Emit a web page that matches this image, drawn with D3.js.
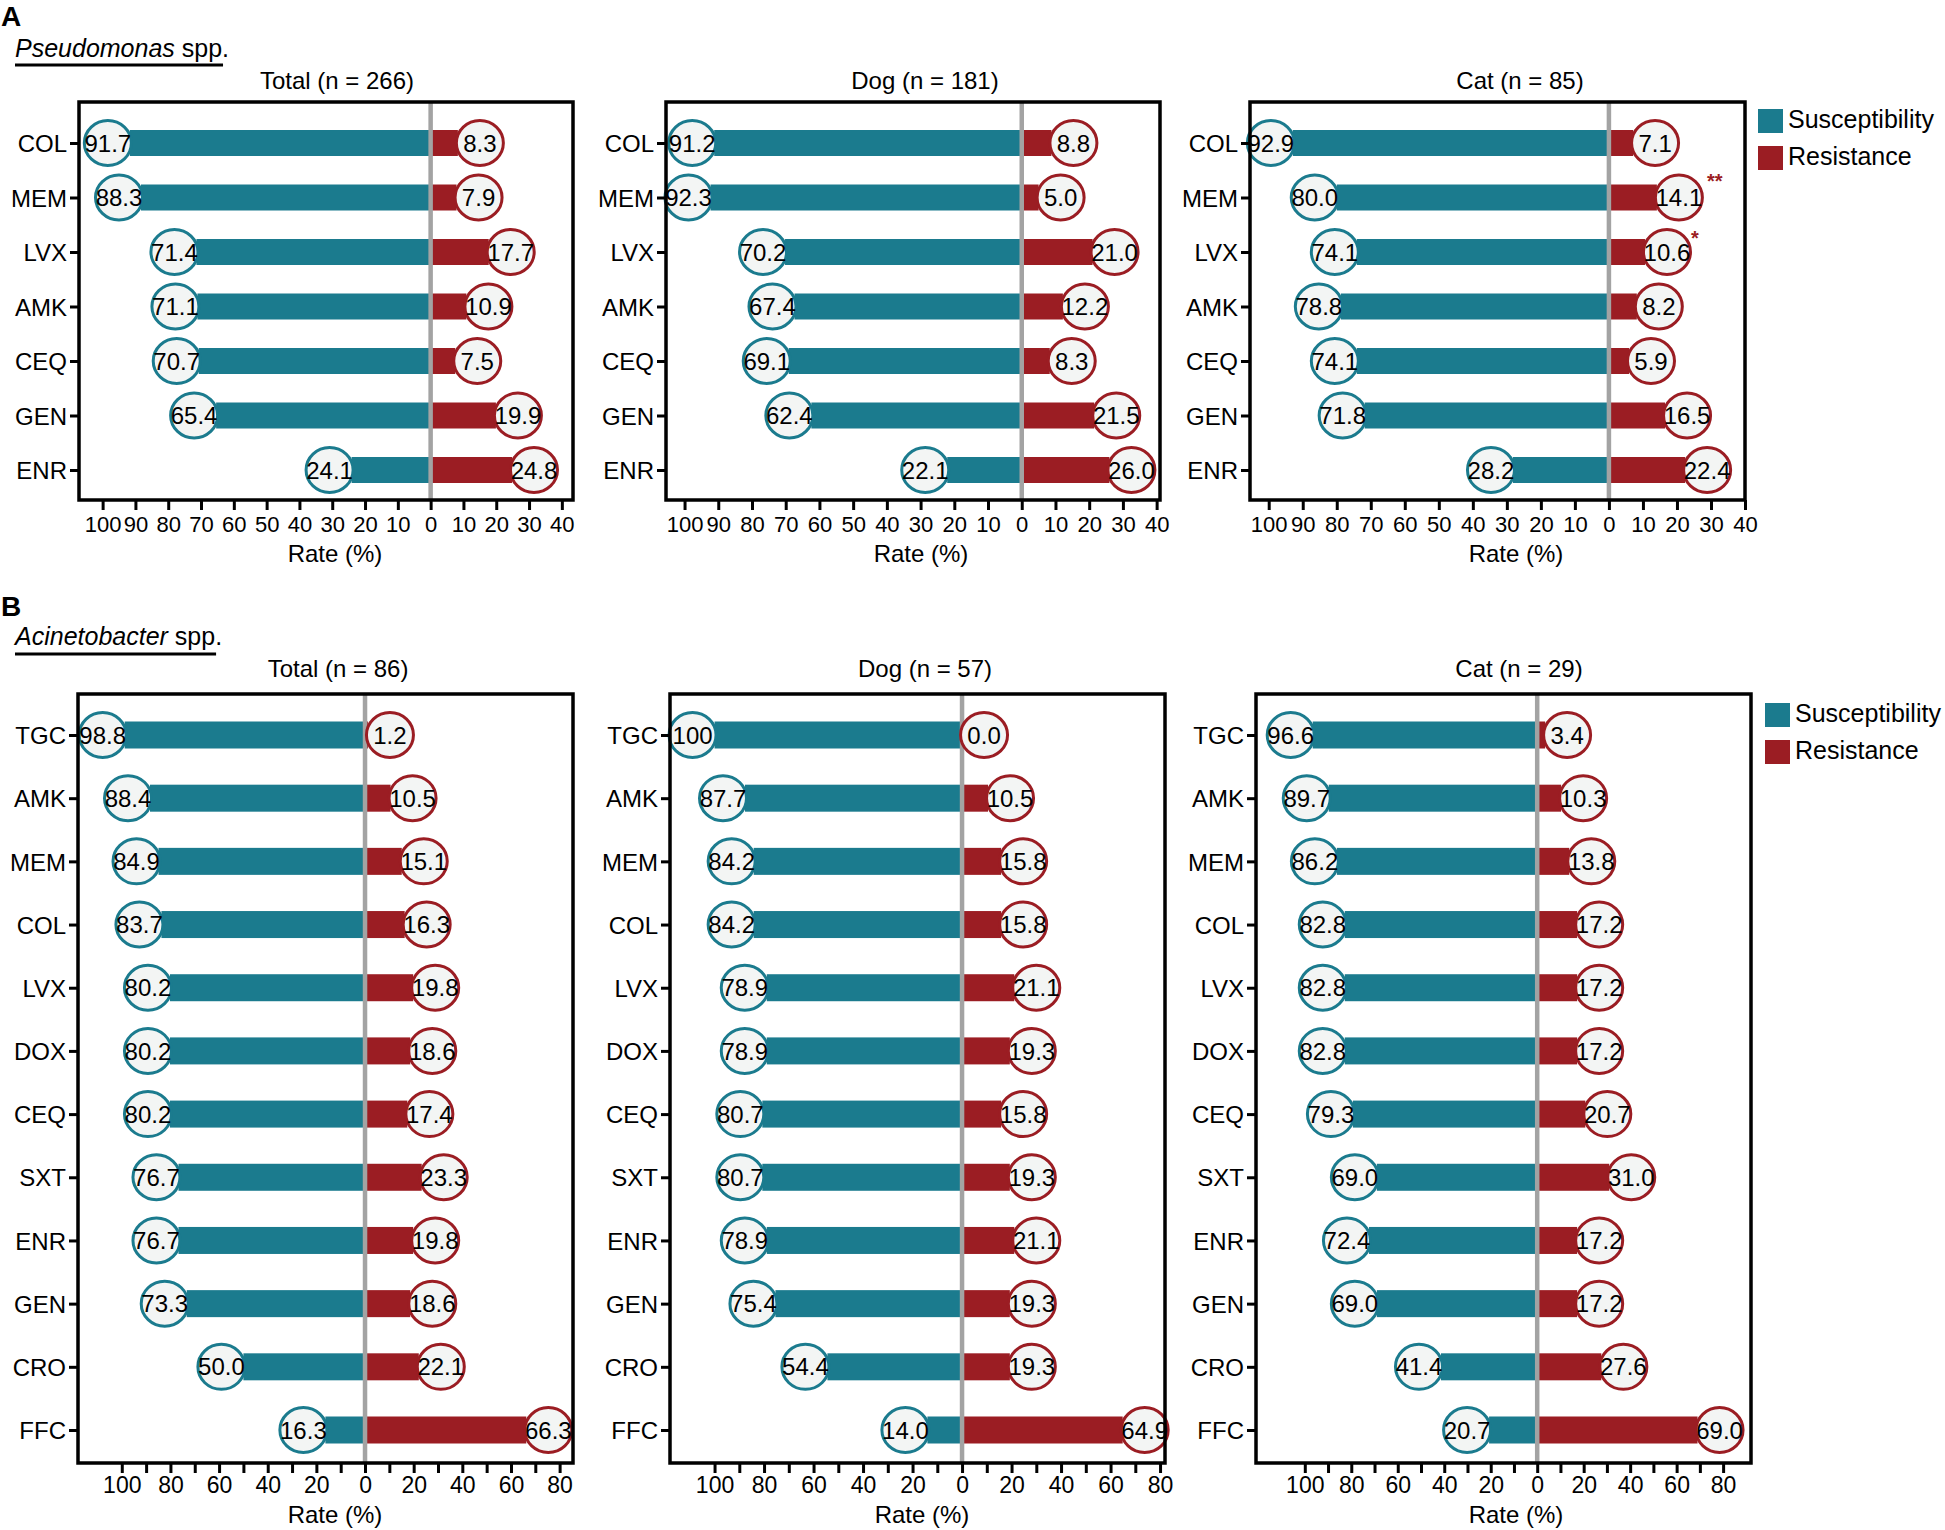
<!DOCTYPE html>
<html>
<head>
<meta charset="utf-8">
<script src="https://cdn.jsdelivr.net/npm/d3@7"></script>
<style>
  html, body { margin: 0; padding: 0; background: #ffffff; }
  svg { display: block; }
  text { font-family: "Liberation Sans", Arial, sans-serif; fill: #000; }
</style>
</head>
<body>
<svg id="chart" width="1945" height="1530"></svg>
<script>
// ---------------- DATA ----------------
// Panel A: Pseudomonas spp.
const drugsA = ["COL", "MEM", "LVX", "AMK", "CEQ", "GEN", "ENR"];
const totalA_S = [91.7, 88.3, 71.4, 71.1, 70.7, 65.4, 24.1];
const totalA_R = [8.3, 7.9, 17.7, 10.9, 7.5, 19.9, 24.8];
const dogA_S = [91.2, 92.3, 70.2, 67.4, 69.1, 62.4, 22.1];
const dogA_R = [8.8, 5.0, 21.0, 12.2, 8.3, 21.5, 26.0];
const catA_S = [92.9, 80.0, 74.1, 78.8, 74.1, 71.8, 28.2];
const catA_R = [7.1, 14.1, 10.6, 8.2, 5.9, 16.5, 22.4];
const catA_sig = ["", "**", "*", "", "", "", ""];
const titlesA = ["Total (n = 266)", "Dog (n = 181)", "Cat (n = 85)"];
const ticksA_left = [100, 90, 80, 70, 60, 50, 40, 30, 20, 10];
const ticksA_right = [0, 10, 20, 30, 40];

// Panel B: Acinetobacter spp.
const drugsB = ["TGC", "AMK", "MEM", "COL", "LVX", "DOX", "CEQ", "SXT", "ENR", "GEN", "CRO", "FFC"];
const totalB_S = [98.8, 88.4, 84.9, 83.7, 80.2, 80.2, 80.2, 76.7, 76.7, 73.3, 50.0, 16.3];
const totalB_R = [1.2, 10.5, 15.1, 16.3, 19.8, 18.6, 17.4, 23.3, 19.8, 18.6, 22.1, 66.3];
const dogB_S = [100, 87.7, 84.2, 84.2, 78.9, 78.9, 80.7, 80.7, 78.9, 75.4, 54.4, 14.0];
const dogB_R = [0.0, 10.5, 15.8, 15.8, 21.1, 19.3, 15.8, 19.3, 21.1, 19.3, 19.3, 64.9];
const catB_S = [96.6, 89.7, 86.2, 82.8, 82.8, 82.8, 79.3, 69.0, 72.4, 69.0, 41.4, 20.7];
const catB_R = [3.4, 10.3, 13.8, 17.2, 17.2, 17.2, 20.7, 31.0, 17.2, 17.2, 27.6, 69.0];
const titlesB = ["Total (n = 86)", "Dog (n = 57)", "Cat (n = 29)"];
const ticksB_left = [100, 90, 80, 70, 60, 50, 40, 30, 20, 10];
const ticksB_right = [0, 10, 20, 30, 40, 50, 60, 70, 80];
const ticksB_labelStep = 20;

const legendLabels = ["Susceptibility", "Resistance"];

// ---------------- STYLE / LAYOUT ----------------
const TEAL = "#1b7b8e";
const RED = "#9b1d23";
const CIRCLE_FILL = "#f3f5f4";
const ZERO_GREY = "#a3a3a3";

const svg = d3.select("#chart");

function fmt(v) { return v === 100 ? "100" : v.toFixed(1); }

function drawPanel(cfg) {
  const g = svg.append("g");
  const x = d3.scaleLinear()
    .domain([-cfg.leftMax, cfg.rightMax])
    .range([cfg.x0, cfg.x1]);
  const y = d3.scalePoint()
    .domain(cfg.drugs)
    .range([cfg.rowTop, cfg.rowBottom]);

  const rows = cfg.drugs.map((d, i) => ({ drug: d, s: cfg.S[i], r: cfg.R[i], sig: cfg.sig ? cfg.sig[i] : "" }));

  // bars
  g.selectAll("rect.s").data(rows).join("rect")
    .attr("x", d => x(-d.s)).attr("width", d => x(0) - x(-d.s))
    .attr("y", d => y(d.drug) - cfg.barH / 2).attr("height", cfg.barH)
    .attr("fill", TEAL);
  g.selectAll("rect.r").data(rows).join("rect")
    .attr("x", x(0)).attr("width", d => x(d.r) - x(0))
    .attr("y", d => y(d.drug) - cfg.barH / 2).attr("height", cfg.barH)
    .attr("fill", RED);

  // zero line
  g.append("line")
    .attr("x1", x(0)).attr("x2", x(0))
    .attr("y1", cfg.top).attr("y2", cfg.bottom)
    .attr("stroke", ZERO_GREY).attr("stroke-width", 4.5);

  const OFF = 22, RX = 23.5, RY = 22.5;
  // circles + labels
  const sG = g.selectAll("g.sl").data(rows).join("g")
    .attr("transform", d => `translate(${x(-d.s) - OFF},${y(d.drug)})`);
  sG.append("ellipse").attr("rx", RX).attr("ry", RY)
    .attr("fill", CIRCLE_FILL).attr("stroke", TEAL).attr("stroke-width", 3);
  sG.append("text").attr("text-anchor", "middle").attr("dy", "0.36em")
    .attr("font-size", 24).text(d => fmt(d.s));

  const rG = g.selectAll("g.rl").data(rows).join("g")
    .attr("transform", d => `translate(${x(d.r) + OFF},${y(d.drug)})`);
  rG.append("ellipse").attr("rx", RX).attr("ry", RY)
    .attr("fill", CIRCLE_FILL).attr("stroke", RED).attr("stroke-width", 3);
  rG.append("text").attr("text-anchor", "middle").attr("dy", "0.36em")
    .attr("font-size", 24).text(d => fmt(d.r));
  rG.filter(d => d.sig).append("text")
    .attr("x", d => d.sig.length > 1 ? 36 : 28)
    .attr("y", d => d.sig.length > 1 ? -10 : -7)
    .attr("text-anchor", "middle")
    .attr("font-size", 20).attr("font-weight", "bold")
    .style("fill", RED)
    .text(d => d.sig);

  // frame
  g.append("rect")
    .attr("x", cfg.x0).attr("y", cfg.top)
    .attr("width", cfg.x1 - cfg.x0).attr("height", cfg.bottom - cfg.top)
    .attr("fill", "none").attr("stroke", "#000").attr("stroke-width", 3.5);

  // x axis
  const tickVals = cfg.ticksLeft.map(v => -v).concat(cfg.ticksRight);
  const xAxis = d3.axisBottom(x).tickValues(tickVals).tickSize(10)
    .tickFormat(d => (Math.abs(d) % cfg.labelStep === 0) ? String(Math.abs(d)) : "");
  const xa = g.append("g").attr("transform", `translate(0,${cfg.bottom})`).call(xAxis);
  xa.select(".domain").remove();
  xa.selectAll(".tick line").attr("stroke", "#000").attr("stroke-width", 3);
  xa.selectAll(".tick text").attr("dy", null).attr("y", cfg.tickY)
    .attr("font-size", cfg.tickFont).attr("font-family", null).attr("fill", "#000");

  // y axis
  const yAxis = d3.axisLeft(y).tickSize(9).tickPadding(3);
  const ya = g.append("g").attr("transform", `translate(${cfg.x0},0)`).call(yAxis);
  ya.select(".domain").remove();
  ya.selectAll(".tick line").attr("stroke", "#000").attr("stroke-width", 3);
  ya.selectAll(".tick text").attr("dy", "0.36em")
    .attr("font-size", 24).attr("font-family", null).attr("fill", "#000");

  // title & x label
  g.append("text").attr("x", cfg.titleX).attr("y", cfg.titleY)
    .attr("text-anchor", "middle").attr("font-size", 24).text(cfg.title);
  g.append("text").attr("x", cfg.rateX).attr("y", cfg.rateY)
    .attr("text-anchor", "middle").attr("font-size", 24).text("Rate (%)");
}

function drawLegend(lx, ly, gap) {
  const g = svg.append("g").attr("transform", `translate(${lx},${ly})`);
  const colors = [TEAL, RED];
  legendLabels.forEach((lab, i) => {
    g.append("rect").attr("x", 0).attr("y", i * gap).attr("width", 25).attr("height", 24).attr("fill", colors[i]);
    g.append("text").attr("x", 30).attr("y", i * gap + 19).attr("font-size", 25).text(lab);
  });
}

function drawSpecies(letter, letterY, genus, textY, lineY) {
  svg.append("text").attr("x", 1).attr("y", letterY).attr("font-size", 28)
    .attr("font-weight", "bold").text(letter);
  const t = svg.append("text").attr("x", 15).attr("y", textY).attr("font-size", 25);
  t.append("tspan").attr("font-style", "italic").text(genus);
  t.append("tspan").text(" spp.");
  const bb = t.node().getBBox();
  svg.append("line").attr("x1", 15).attr("x2", bb.x + bb.width - 6)
    .attr("y1", lineY).attr("y2", lineY).attr("stroke", "#000").attr("stroke-width", 3);
}

// ---------------- PANEL A ----------------
const layoutA = { top: 102, bottom: 500, rowTop: 143, rowBottom: 470, barH: 26,
  titleY: 89, tickY: 32, rateY: 562, labelStep: 10, tickFont: 22, drugs: drugsA,
  ticksLeft: ticksA_left, ticksRight: ticksA_right };
const framesA = [
  { x0: 79, x1: 573, leftMax: 107.2, rightMax: 43.4, titleX: 337, rateX: 335 },
  { x0: 666, x1: 1160, leftMax: 105.5, rightMax: 41, titleX: 925, rateX: 921 },
  { x0: 1250, x1: 1745, leftMax: 105.5, rightMax: 40, titleX: 1520, rateX: 1516 }
];
const seriesA = [[totalA_S, totalA_R, null], [dogA_S, dogA_R, null], [catA_S, catA_R, catA_sig]];
framesA.forEach((f, i) => drawPanel(Object.assign({}, layoutA, f,
  { S: seriesA[i][0], R: seriesA[i][1], sig: seriesA[i][2], title: titlesA[i] })));

// ---------------- PANEL B ----------------
const layoutB = { top: 694, bottom: 1463, rowTop: 735, rowBottom: 1430, barH: 27,
  titleY: 677, tickY: 30, rateY: 1523, labelStep: ticksB_labelStep, tickFont: 23, drugs: drugsB,
  ticksLeft: ticksB_left, ticksRight: ticksB_right };
const framesB = [
  { x0: 78, x1: 573, leftMax: 118, rightMax: 85.5, titleX: 338, rateX: 335 },
  { x0: 670, x1: 1165, leftMax: 118, rightMax: 82, titleX: 925, rateX: 922 },
  { x0: 1256, x1: 1751, leftMax: 121, rightMax: 92, titleX: 1519, rateX: 1516 }
];
const seriesB = [[totalB_S, totalB_R], [dogB_S, dogB_R], [catB_S, catB_R]];
framesB.forEach((f, i) => drawPanel(Object.assign({}, layoutB, f,
  { S: seriesB[i][0], R: seriesB[i][1], sig: null, title: titlesB[i] })));

// legends and headings
drawLegend(1758, 109, 37);
drawLegend(1765, 703, 37);
drawSpecies("A", 26, "Pseudomonas", 57, 65);
drawSpecies("B", 616, "Acinetobacter", 645, 654);
</script>
</body>
</html>
